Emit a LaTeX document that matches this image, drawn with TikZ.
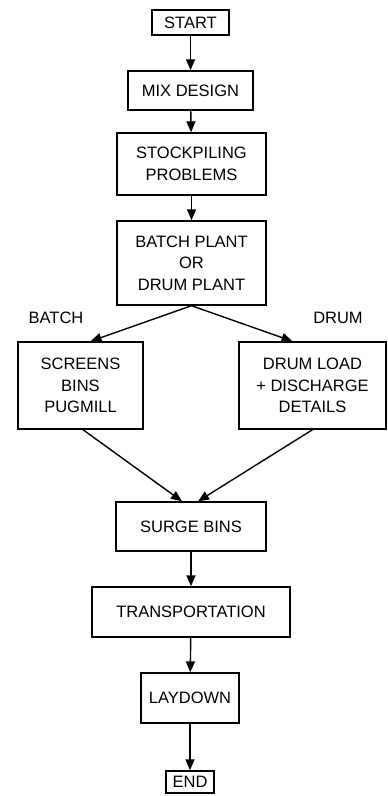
\documentclass[tikz,border=0pt]{standalone}
\usepackage{fontspec}
\setmainfont{Liberation Sans}
\usepackage{tikz}
\usetikzlibrary{arrows.meta,positioning}

\begin{document}
\begin{tikzpicture}[x=1pt, y=-1pt,
    every node/.style={font=\fontsize{16.5}{21.5}\selectfont},
    blk/.style={draw, line width=1.4pt, align=center, inner sep=0pt},
    flow/.style={line width=1.4pt, -{Triangle[length=11pt,width=9pt]}},
    branch/.style={font=\fontsize{16.5}{21.5}\selectfont}]
  \useasboundingbox (0,0) rectangle (388,796);

  \node[blk,minimum width=77pt,minimum height=25pt]  (start) at (190.5,22.5) {START};
  \node[blk,minimum width=125pt,minimum height=39pt] (mix)   at (190.5,90.5) {MIX DESIGN};
  \node[blk,minimum width=149pt,minimum height=62pt] (stock) at (191.5,164)
    {STOCKPILING\\PROBLEMS};
  \node[blk,minimum width=149pt,minimum height=84pt] (plant) at (191.5,263)
    {BATCH PLANT\\OR\\DRUM PLANT};

  \node[branch] (lbatch) at (56,318) {BATCH};
  \node[branch] (ldrum)  at (338,318) {DRUM};

  \node[blk,minimum width=125pt,minimum height=87pt] (screens) at (80.5,385.5)
    {SCREENS\\BINS\\PUGMILL};
  \node[blk,minimum width=147pt,minimum height=87pt] (drum) at (312.5,385.5)
    {DRUM LOAD\\+ DISCHARGE\\DETAILS};

  \node[blk,minimum width=150pt,minimum height=49pt] (surge) at (191,526.5) {SURGE BINS};
  \node[blk,minimum width=198pt,minimum height=50pt] (trans) at (191,612) {TRANSPORTATION};
  \node[blk,minimum width=98pt,minimum height=50pt]  (lay)   at (190,698) {LAYDOWN};
  \node[blk,minimum width=48pt,minimum height=22pt]  (end)   at (190,782) {END};

  \draw[flow](start)--(mix); \draw[flow](mix)--(stock); \draw[flow](stock)--(plant);
  \draw[flow](plant.south)--([xshift=10pt]screens.north);
  \draw[flow](plant.south)--([xshift=-20pt]drum.north);
  \draw[flow]([xshift=2.5pt]screens.south)--([xshift=-9pt]surge.north);
  \draw[flow](drum.south)--([xshift=7pt]surge.north);
  \draw[flow](surge)--(trans); \draw[flow](trans)--(lay); \draw[flow](lay)--(end);
\end{tikzpicture}
\end{document}
